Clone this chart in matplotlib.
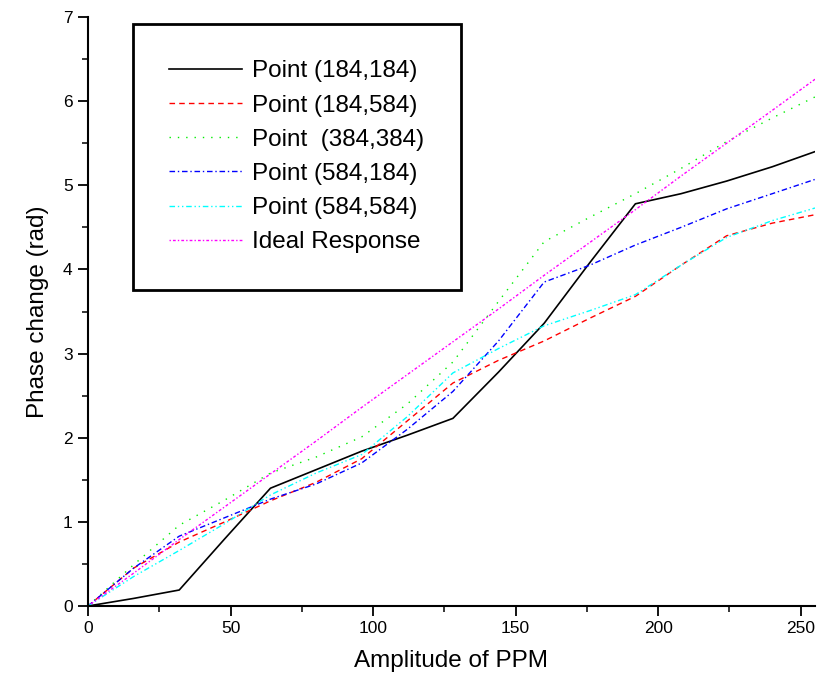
import matplotlib.pyplot as plt
import numpy as np

plt.rcParams['font.family'] = ['Liberation Sans', 'DejaVu Sans']

ppm = [0, 16, 32, 48, 64, 80, 96, 112, 128, 144, 160, 176, 192, 208, 224, 240, 255]

p184_184 = [0, 0.09, 0.19, 0.80, 1.40, 1.62, 1.84, 2.03, 2.23, 2.78, 3.36, 4.08, 4.78, 4.90, 5.05, 5.22, 5.40]
p184_584 = [0, 0.45, 0.76, 1.00, 1.25, 1.47, 1.75, 2.20, 2.65, 2.92, 3.15, 3.42, 3.68, 4.05, 4.40, 4.55, 4.65]
p384_384 = [0, 0.49, 0.96, 1.26, 1.58, 1.77, 2.01, 2.40, 2.90, 3.62, 4.33, 4.62, 4.90, 5.20, 5.52, 5.80, 6.05]
p584_184 = [0, 0.45, 0.83, 1.05, 1.27, 1.45, 1.70, 2.10, 2.55, 3.15, 3.85, 4.05, 4.29, 4.50, 4.72, 4.90, 5.07]
p584_584 = [0, 0.35, 0.66, 0.98, 1.32, 1.58, 1.80, 2.25, 2.77, 3.06, 3.33, 3.51, 3.70, 4.05, 4.38, 4.58, 4.73]
ideal = [0, 0.39, 0.79, 1.18, 1.57, 1.96, 2.36, 2.75, 3.14, 3.53, 3.93, 4.32, 4.71, 5.11, 5.50, 5.89, 6.26]

labels = ['Point (184,184)', 'Point (184,584)', 'Point  (384,384)',
          'Point (584,184)', 'Point (584,584)', 'Ideal Response']

fig = plt.figure(figsize=(8.19, 6.94), dpi=100)
ax = fig.add_axes([88/819, 1-606/694, 727/819, 589/694])

ax.plot(ppm, p184_184, color='black', lw=1.2, ls='-', label=labels[0])
ax.plot(ppm, p184_584, color='red', lw=1.0, ls=(0, (4, 3)), label=labels[1])
ax.plot(ppm, p384_384, color='#00ee00', lw=1.0, ls=(0, (1, 5)), label=labels[2])
ax.plot(ppm, p584_184, color='blue', lw=1.0, ls=(0, (4, 2, 1, 2)), label=labels[3])
ax.plot(ppm, p584_584, color='cyan', lw=1.0, ls=(0, (4, 2, 1, 2, 1, 2)), label=labels[4])
ax.plot(ppm, ideal, color='magenta', lw=1.0, ls=(0, (1, 1.5, 2, 1.5)), label=labels[5])

ax.set_xlim(0, 255)
ax.set_ylim(0, 7)
ax.set_xticks([0, 50, 100, 150, 200, 250])
ax.set_xticks(np.arange(25, 255, 50), minor=True)
ax.set_yticks(range(8))
ax.set_yticks(np.arange(0.5, 7, 1), minor=True)

for s in ['top', 'right']:
    ax.spines[s].set_visible(False)
for s in ['left', 'bottom']:
    ax.spines[s].set_linewidth(1.5)

ax.tick_params(which='major', length=7, width=1.3, labelsize=12.5, pad=4, direction='out')
ax.tick_params(which='minor', length=4, width=1.1, direction='out')

ax.set_xlabel('Amplitude of PPM', fontsize=17.5, labelpad=10)
ax.set_ylabel('Phase change (rad)', fontsize=17.5, labelpad=10)

leg = ax.legend(loc='upper left', bbox_to_anchor=(133/819, 1-24/694),
                bbox_transform=fig.transFigure, fontsize=17.5, fancybox=False,
                edgecolor='black', framealpha=1, handlelength=3.0,
                handletextpad=0.4, labelspacing=0.5, borderpad=1.5,
                borderaxespad=0)
leg.get_frame().set_linewidth(2)

fig.savefig('out.png', dpi=100)
